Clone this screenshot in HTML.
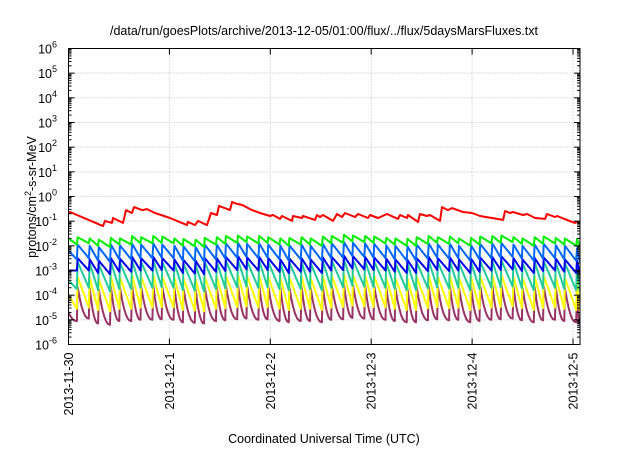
<!DOCTYPE html>
<html><head><meta charset="utf-8"><style>
body{margin:0;background:#fff;width:640px;height:448px;overflow:hidden;font-family:"Liberation Sans",sans-serif}
</style></head><body>
<svg id="chart" width="640" height="448" viewBox="0 0 640 448" xmlns="http://www.w3.org/2000/svg" font-family="Liberation Sans, sans-serif">
<text x="324" y="35" font-size="12.5" text-anchor="middle">/data/run/goesPlots/archive/2013-12-05/01:00/flux/../flux/5daysMarsFluxes.txt</text>
<text x="324" y="443" font-size="12.5" text-anchor="middle">Coordinated Universal Time (UTC)</text>
<text transform="translate(36,197) rotate(-90)" font-size="12.5" text-anchor="middle">protons/cm<tspan dy="-5" font-size="9">2</tspan><tspan dy="5">-s-sr-MeV</tspan></text>
<g id="grid"></g><g id="series"></g><g id="axes"></g>
</svg>
<script>
const xTickLabels=["2013-11-30","2013-12-1","2013-12-2","2013-12-3","2013-12-4","2013-12-5"];
const yTickExps=[-6,-5,-4,-3,-2,-1,0,1,2,3,4,5,6];
const redT=[0.0,0.015,0.342,0.362,0.431,0.441,0.540,0.570,0.629,0.649,0.728,0.778,0.857,1.006,1.174,1.184,1.254,1.283,1.373,1.412,1.472,1.492,1.601,1.621,1.670,1.720,1.819,1.898,1.997,2.027,2.096,2.116,2.215,2.225,2.314,2.324,2.443,2.463,2.493,2.522,2.621,2.661,2.711,2.740,2.839,2.869,2.968,2.988,3.068,3.157,3.266,3.286,3.355,3.365,3.464,3.484,3.553,3.583,3.682,3.702,3.761,3.801,3.910,3.999,4.078,4.307,4.326,4.376,4.405,4.504,4.544,4.624,4.723,4.742,4.822,4.842,4.941,4.990,5.020,5.040,5.070];
const redE=[-0.67,-0.63,-1.20,-0.99,-1.07,-0.87,-1.07,-0.55,-0.67,-0.43,-0.55,-0.51,-0.67,-0.87,-1.16,-1.03,-1.16,-0.99,-1.16,-0.67,-0.75,-0.38,-0.55,-0.22,-0.30,-0.34,-0.55,-0.67,-0.79,-0.75,-0.91,-0.79,-0.99,-0.79,-0.87,-0.79,-0.95,-0.75,-0.83,-0.75,-0.99,-0.71,-0.83,-0.67,-0.83,-0.71,-0.87,-0.75,-0.87,-0.71,-0.91,-0.75,-0.87,-0.75,-1.03,-0.71,-0.79,-0.75,-0.99,-0.43,-0.55,-0.47,-0.63,-0.67,-0.79,-0.95,-0.59,-0.67,-0.63,-0.75,-0.71,-0.87,-0.91,-0.71,-0.83,-0.79,-0.95,-1.03,-1.07,-1.03,-1.03];
const peakT=[0,0.09,0.21,0.30,0.42,0.51,0.63,0.72,0.84,0.93,1.05,1.14,1.26,1.35,1.47,1.56,1.68,1.77,1.89,1.98,2.10,2.19,2.31,2.40,2.52,2.61,2.73,2.82,2.94,3.03,3.15,3.24,3.36,3.45,3.57,3.66,3.78,3.87,3.99,4.08,4.20,4.29,4.41,4.50,4.62,4.71,4.83,4.92,5.04];
const greenPk=[-1.7,-1.65,-1.7,-1.75,-1.68,-1.7,-1.6,-1.65,-1.6,-1.62,-1.7,-1.72,-1.75,-1.68,-1.65,-1.6,-1.58,-1.62,-1.6,-1.65,-1.7,-1.68,-1.65,-1.7,-1.62,-1.6,-1.55,-1.58,-1.6,-1.62,-1.68,-1.7,-1.72,-1.65,-1.6,-1.65,-1.62,-1.7,-1.68,-1.62,-1.6,-1.58,-1.65,-1.7,-1.65,-1.62,-1.68,-1.7,-1.72];
const greenTr=[-1.95,-1.9,-2.0,-2.05,-1.95,-1.95,-1.9,-1.9,-1.88,-1.9,-2.0,-2.02,-2.05,-1.95,-1.92,-1.88,-1.85,-1.9,-1.88,-1.95,-2.0,-1.95,-1.95,-2.0,-1.9,-1.88,-1.82,-1.85,-1.88,-1.9,-1.95,-2.0,-2.0,-1.92,-1.88,-1.92,-1.9,-2.0,-1.95,-1.9,-1.88,-1.85,-1.92,-2.0,-1.92,-1.9,-1.95,-2.0,-2.05];
const lblPk=[-2.2,-1.95,-2.0,-2.05,-1.95,-1.98,-1.92,-1.95,-1.9,-1.95,-2.0,-2.02,-2.05,-1.95,-1.95,-1.9,-1.88,-1.92,-1.9,-1.95,-2.0,-1.98,-1.95,-2.0,-1.92,-1.9,-1.85,-1.88,-1.9,-1.92,-1.98,-2.0,-2.02,-1.95,-1.9,-1.95,-1.92,-2.0,-1.98,-1.92,-1.9,-1.88,-1.95,-2.0,-1.95,-1.92,-1.98,-2.0,-2.1];
const lblTr=[-2.55,-2.5,-2.6,-2.65,-2.55,-2.55,-2.5,-2.5,-2.48,-2.5,-2.6,-2.62,-2.65,-2.55,-2.52,-2.48,-2.45,-2.5,-2.48,-2.55,-2.6,-2.55,-2.55,-2.6,-2.5,-2.48,-2.42,-2.45,-2.48,-2.5,-2.55,-2.6,-2.6,-2.52,-2.48,-2.52,-2.5,-2.6,-2.55,-2.5,-2.48,-2.45,-2.52,-2.6,-2.52,-2.5,-2.55,-2.6,-2.65];
const bluePk=[-3.0,-2.5,-2.55,-2.6,-2.5,-2.52,-2.45,-2.5,-2.45,-2.5,-2.55,-2.57,-2.6,-2.5,-2.5,-2.45,-2.42,-2.47,-2.45,-2.5,-2.55,-2.52,-2.5,-2.55,-2.47,-2.45,-2.4,-2.42,-2.45,-2.47,-2.52,-2.55,-2.57,-2.5,-2.45,-2.5,-2.47,-2.55,-2.52,-2.47,-2.45,-2.42,-2.5,-2.55,-2.5,-2.47,-2.52,-2.55,-2.6];
const blueTr=[-3.0,-3.0,-3.1,-3.15,-3.05,-3.05,-3.0,-3.0,-2.98,-3.0,-3.1,-3.12,-3.15,-3.05,-3.02,-2.98,-2.95,-3.0,-2.98,-3.05,-3.1,-3.05,-3.05,-3.1,-3.0,-2.98,-2.92,-2.95,-2.98,-3.0,-3.05,-3.1,-3.1,-3.02,-2.98,-3.02,-3.0,-3.1,-3.05,-3.0,-2.98,-2.95,-3.02,-3.1,-3.02,-3.0,-3.05,-3.1,-3.15];
const tealPk=[-3.4,-2.65,-2.7,-2.75,-2.65,-2.68,-2.6,-2.65,-2.6,-2.65,-2.7,-2.72,-2.75,-2.65,-2.65,-2.6,-2.58,-2.62,-2.6,-2.65,-2.7,-2.68,-2.65,-2.7,-2.62,-2.6,-2.55,-2.58,-2.6,-2.62,-2.68,-2.7,-2.72,-2.65,-2.6,-2.65,-2.62,-2.7,-2.68,-2.62,-2.6,-2.58,-2.65,-2.7,-2.65,-2.62,-2.68,-2.7,-2.75];
const tealTr=[-3.75,-3.7,-3.8,-3.85,-3.75,-3.75,-3.7,-3.7,-3.68,-3.7,-3.8,-3.82,-3.85,-3.75,-3.72,-3.68,-3.65,-3.7,-3.68,-3.75,-3.8,-3.75,-3.75,-3.8,-3.7,-3.68,-3.62,-3.65,-3.68,-3.7,-3.75,-3.8,-3.8,-3.72,-3.68,-3.72,-3.7,-3.8,-3.75,-3.7,-3.68,-3.65,-3.72,-3.8,-3.72,-3.7,-3.75,-3.8,-3.85];
const yelPk=[-4.0,-3.25,-3.3,-3.35,-3.25,-3.28,-3.2,-3.25,-3.2,-3.25,-3.3,-3.32,-3.35,-3.25,-3.25,-3.2,-3.18,-3.22,-3.2,-3.25,-3.3,-3.28,-3.25,-3.3,-3.22,-3.2,-3.15,-3.18,-3.2,-3.22,-3.28,-3.3,-3.32,-3.25,-3.2,-3.25,-3.22,-3.3,-3.28,-3.22,-3.2,-3.18,-3.25,-3.3,-3.25,-3.22,-3.28,-3.3,-3.35];
const yelTr=[-4.55,-4.5,-4.6,-4.65,-4.55,-4.55,-4.5,-4.5,-4.48,-4.5,-4.6,-4.62,-4.65,-4.55,-4.52,-4.48,-4.45,-4.5,-4.48,-4.55,-4.6,-4.55,-4.55,-4.6,-4.5,-4.48,-4.42,-4.45,-4.48,-4.5,-4.55,-4.6,-4.6,-4.52,-4.48,-4.52,-4.5,-4.6,-4.55,-4.5,-4.48,-4.45,-4.52,-4.6,-4.52,-4.5,-4.55,-4.6,-4.65];
const purPk=[-4.7,-3.65,-3.7,-3.75,-3.65,-3.68,-3.6,-3.65,-3.6,-3.65,-3.7,-3.72,-3.75,-3.65,-3.65,-3.6,-3.58,-3.62,-3.6,-3.65,-3.7,-3.68,-3.65,-3.7,-3.62,-3.6,-3.55,-3.58,-3.6,-3.62,-3.68,-3.7,-3.72,-3.65,-3.6,-3.65,-3.62,-3.7,-3.68,-3.62,-3.6,-3.58,-3.65,-3.7,-3.65,-3.62,-3.68,-3.7,-3.75];
const purTr=[-5.05,-4.95,-5.15,-5.2,-5.05,-5.05,-5.0,-5.0,-4.98,-5.0,-5.1,-5.12,-5.15,-5.05,-5.02,-4.98,-4.95,-5.0,-4.98,-5.05,-5.1,-5.05,-5.05,-5.1,-5.0,-4.98,-4.92,-4.95,-4.98,-5.0,-5.05,-5.1,-5.1,-5.02,-4.98,-5.02,-5.0,-5.1,-5.05,-5.0,-4.98,-4.95,-5.02,-5.1,-5.02,-5.0,-5.05,-5.1,-5.15];

const L=68.5,R=580,T=48.5,B=344.5,DAYPX=100.9,TMAX=(R-L)/DAYPX;
const xs=d=>L+d*DAYPX;
const ys=e=>B-(e+6)*(B-T)/12;
const NS="http://www.w3.org/2000/svg";
function mk(tag,attrs,parent){const el=document.createElementNS(NS,tag);for(const k in attrs)el.setAttribute(k,attrs[k]);parent.appendChild(el);return el;}
const grid=document.getElementById('grid'),axes=document.getElementById('axes'),ser=document.getElementById('series');
yTickExps.forEach(e=>{
  const y=ys(e);
  if(e>-6&&e<6){const g=mk('line',{x1:L,x2:R,y1:y,y2:y,stroke:'#bbb','stroke-width':1,'stroke-dasharray':'1,2'},grid);
  
  }
  mk('line',{x1:L,x2:L+6,y1:y,y2:y,stroke:'#000'},axes);
  mk('line',{x1:R-6,x2:R,y1:y,y2:y,stroke:'#000'},axes);
  const t=mk('text',{x:57,y:y+5,'font-size':12.5,'text-anchor':'end'},axes);
  
  
  t.innerHTML='10<tspan dy="-6" font-size="9">'+e+'</tspan>';
  for(let m=2;m<10&&e<6;m++){const ym=ys(e+Math.log10(m));mk('line',{x1:L,x2:L+3,y1:ym,y2:ym,stroke:'#000'},axes);mk('line',{x1:R-3,x2:R,y1:ym,y2:ym,stroke:'#000'},axes);}
});
xTickLabels.forEach((lab,i)=>{
  const x=xs(i);
  if(i>0&&x<R-2){const g=mk('line',{x1:x,x2:x,y1:T,y2:B,stroke:'#bbb','stroke-width':1,'stroke-dasharray':'1,2'},grid);
  
  }
  mk('line',{x1:x,x2:x,y1:B,y2:B-6,stroke:'#000'},axes);
  mk('line',{x1:x,x2:x,y1:T,y2:T+6,stroke:'#000'},axes);
  const t=mk('text',{transform:`translate(${x+4.5},${B+8}) rotate(-90)`,'font-size':12.5,'text-anchor':'end'},axes);
  
  
  t.textContent=lab;
});
const fr=mk('rect',{x:L,y:T,width:R-L,height:B-T,fill:'none',stroke:'#000','stroke-width':1},axes);



const clip=mk('clipPath',{id:'pc'},ser);mk('rect',{x:L,y:T,width:R-L,height:B-T},clip);
function saw(pk,tr,color,curv,name){
  let d='';
  for(let i=0;i<peakT.length;i++){
    const t0=peakT[i],t1=(i+1<peakT.length?peakT[i+1]:TMAX);
    const p=pk[i],q=tr[i];
    d+=(i?'L':'M')+xs(t0).toFixed(1)+','+ys(p).toFixed(1);
    for(let k=1;k<=6;k++){const f=k/6;const g=curv?1-Math.pow(1-f,2.2):f;d+='L'+xs(t0+(t1-t0)*f*0.93).toFixed(1)+','+ys(p+(q-p)*g).toFixed(1);}
  }
  const pth=mk('path',{d:d,fill:'none',stroke:color,'stroke-width':2,'clip-path':'url(#pc)','stroke-linejoin':'round'},ser);
  
  
}
saw(purPk,purTr,'#993366',true,'series-purple');
saw(yelPk,yelTr,'#ffff00',false,'series-yellow');
saw(tealPk,tealTr,'#22cc99',false,'series-teal');
saw(bluePk,blueTr,'#0000ee',false,'series-blue');
saw(lblPk,lblTr,'#0066ff',false,'series-light-blue');
saw(greenPk,greenTr,'#00ee00',false,'series-green');
let rd='';redT.forEach((t,i)=>{rd+=(i?'L':'M')+xs(t).toFixed(1)+','+ys(redE[i]).toFixed(1);});
const rp=mk('path',{d:rd,fill:'none',stroke:'#ff0000','stroke-width':2,'clip-path':'url(#pc)','stroke-linejoin':'round'},ser);


</script>
</body></html>
